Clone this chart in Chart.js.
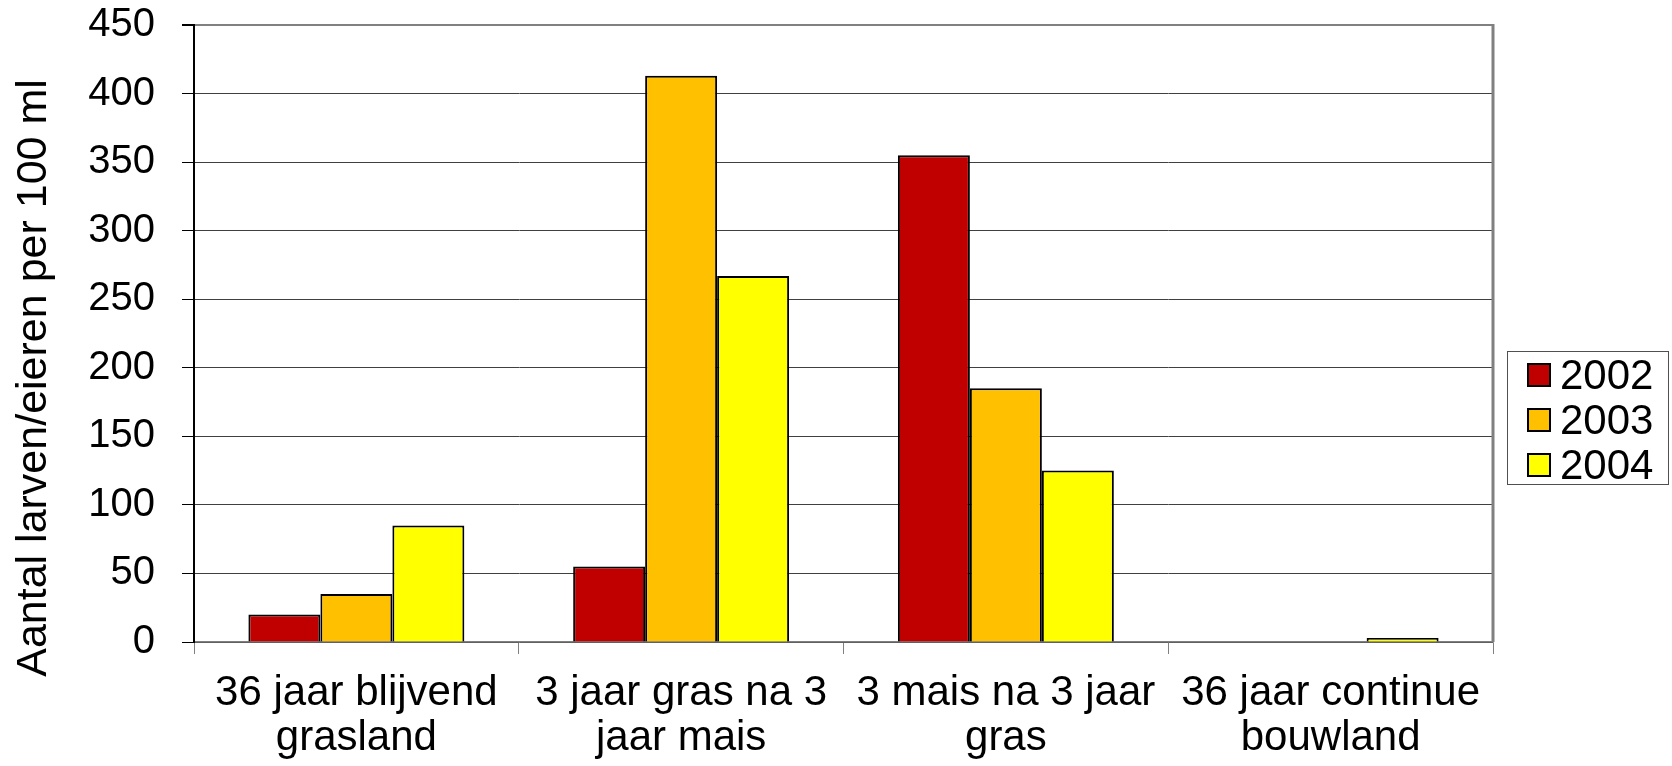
<!DOCTYPE html>
<html>
<head>
<meta charset="utf-8">
<script src="https://cdn.jsdelivr.net/npm/chart.js@4"></script>
<style>
    body { margin: 0; background: #fff; }
    #wrap { position: relative; width: 1672px; height: 766px; }
    #legend {
        position: absolute; left: 1507px; top: 351px; width: 162px; height: 134px;
        border: 1.5px solid #505050; box-sizing: border-box;
        font-family: 'Liberation Sans', Arial, sans-serif; font-size: 42px; color: #000;
    }
    .row { display: flex; align-items: center; height: 45px; }
    .sw { width: 20px; height: 20px; border: 2px solid #000; margin: 0 9px 0 19px; }
</style>
</head>
<body>
<div id="wrap">
    <canvas id="barChart" width="1672" height="766"></canvas>
    <div id="legend"></div>
</div>
<script>
const categories = [
    ['36 jaar blijvend', 'grasland'],
    ['3 jaar gras na 3', 'jaar mais'],
    ['3 mais na 3 jaar', 'gras'],
    ['36 jaar continue', 'bouwland']
];
const years = ['2002', '2003', '2004'];
const values2002 = [20, 55, 355, 0];
const values2003 = [35, 413, 185, 0];
const values2004 = [85, 267, 125, 3];
const colors = ['#C00000', '#FFC000', '#FFFF00'];
const yTitle = 'Aantal larven/eieren per 100 ml';

const fontFamily = "'Liberation Sans', Arial, sans-serif";

// legend as html, placed like the original
const legend = document.getElementById('legend');
years.forEach((y, i) => {
    const row = document.createElement('div');
    row.className = 'row';
    row.innerHTML = `<span class="sw" style="background:${colors[i]}"></span><span>${y}</span>`;
    legend.appendChild(row);
});

// right border of the plot + rotated axis title
const framePlugin = {
    id: 'frame',
    afterDraw(chart) {
        const { ctx, chartArea } = chart;
        ctx.save();
        ctx.strokeStyle = '#808080';
        ctx.lineWidth = 3;
        ctx.beginPath();
        ctx.moveTo(chartArea.right, chartArea.top - 1);
        ctx.lineTo(chartArea.right, chartArea.bottom);
        ctx.stroke();

        ctx.translate(34, 378);
        ctx.rotate(-Math.PI / 2);
        ctx.fillStyle = '#000';
        ctx.font = `43px ${fontFamily}`;
        ctx.textAlign = 'center';
        ctx.textBaseline = 'middle';
        ctx.fillText(yTitle, 0, 0);
        ctx.restore();
    }
};

const ctx = document.getElementById('barChart').getContext('2d');
new Chart(ctx, {
    type: 'bar',
    data: {
        labels: categories,
        datasets: [values2002, values2003, values2004].map((vals, i) => ({
            label: years[i],
            data: vals,
            backgroundColor: colors[i],
            borderColor: '#000',
            borderWidth: 2,
            barPercentage: 1,
            categoryPercentage: 0.665
        }))
    },
    options: {
        responsive: false,
        animation: false,
        layout: { padding: { top: 25, right: 179, left: 0, bottom: 0 } },
        plugins: {
            legend: { display: false },
            tooltip: { enabled: false }
        },
        scales: {
            x: {
                grid: { drawOnChartArea: false, tickLength: 12, color: '#808080' },
                border: { color: '#808080', width: 1.5 },
                ticks: { color: '#000', font: { family: fontFamily, size: 42, lineHeight: 1.07 }, padding: 17, maxRotation: 0 },
                afterFit(scale) { scale.height = 124; }
            },
            y: {
                min: 0,
                max: 450,
                ticks: { stepSize: 50, color: '#000', font: { family: fontFamily, size: 40 }, padding: 27 },
                grid: {
                    tickLength: 12,
                    tickColor: '#000',
                    color: c => c.tick.value === 450 ? '#808080' : '#404040',
                    lineWidth: c => c.tick.value === 450 ? 2 : 1
                },
                border: { color: '#000', width: 2 },
                afterFit(scale) {
                    scale.width = 194;
                    // tick padding would otherwise push the plot top down
                    scale.paddingTop = 0;
                    scale.paddingBottom = 0;
                }
            }
        }
    },
    plugins: [framePlugin]
});
</script>
</body>
</html>
